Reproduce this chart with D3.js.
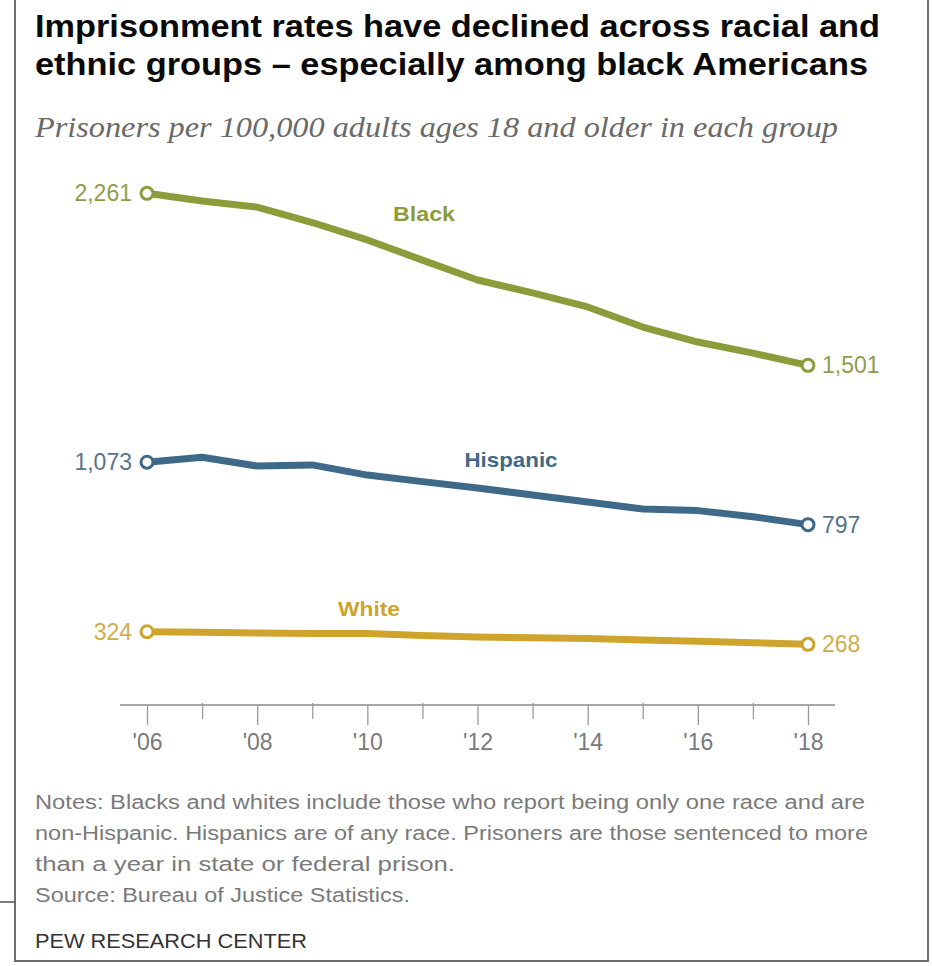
<!DOCTYPE html>
<html>
<head>
<meta charset="utf-8">
<script src="https://cdn.jsdelivr.net/npm/d3@7/dist/d3.min.js"></script>
<style>
  html, body { margin: 0; padding: 0; background: #fff; }
  svg { display: block; }
</style>
</head>
<body>
<svg id="chart" width="932" height="966"></svg>
<script>
// Imprisonment rate per 100,000 adults, 2006-2018 (Bureau of Justice Statistics)
const years = [2006, 2007, 2008, 2009, 2010, 2011, 2012, 2013, 2014, 2015, 2016, 2017, 2018];
const blackRates    = [2261, 2227, 2200, 2132, 2055, 1966, 1878, 1821, 1759, 1670, 1604, 1555, 1501];
const hispanicRates = [1073, 1095, 1056, 1061, 1016, 987, 959, 928, 897, 866, 859, 832, 797];
const whiteRates    = [324, 321, 318, 316, 316, 307, 300, 297, 294, 287, 282, 275, 268];
const seriesNames   = ["Black", "Hispanic", "White"];
const tickYears     = [2006, 2008, 2010, 2012, 2014, 2016, 2018];
const tickLabels    = ["'06", "'08", "'10", "'12", "'14", "'16", "'18"];
const titleLines    = ["Imprisonment rates have declined across racial and",
                       "ethnic groups \u2013 especially among black Americans"];
const subtitle      = "Prisoners per 100,000 adults ages 18 and older in each group";
const noteLines     = ["Notes: Blacks and whites include those who report being only one race and are",
                       "non-Hispanic. Hispanics are of any race. Prisoners are those sentenced to more",
                       "than a year in state or federal prison.",
                       "Source: Bureau of Justice Statistics."];
const credit        = "PEW RESEARCH CENTER";

const series = [
  { name: seriesNames[0], values: blackRates,    color: "#8b9d3b", text: "#8f9c4c",
    label: { x: 424, y: 213, w: 62 } },
  { name: seriesNames[1], values: hispanicRates, color: "#3f6988", text: "#56748a",
    label: { x: 511, y: 459, w: 93 } },
  { name: seriesNames[2], values: whiteRates,    color: "#cfa42d", text: "#d1ac4c",
    label: { x: 369, y: 608, w: 62 } }
];

const svg = d3.select("#chart");
const sans = "'Liberation Sans', Arial, 'Helvetica Neue', sans-serif";
const serif = "'Liberation Serif', Georgia, 'DejaVu Serif', serif";

svg.append("rect").attr("width", 932).attr("height", 966).attr("fill", "#fff");

// Frame
const frame = svg.append("g").attr("stroke", "#6f6f6f").attr("stroke-width", 2).attr("fill", "none");
frame.append("path").attr("d", "M15,0 V961 H928 V0");
svg.append("line").attr("x1", 0).attr("x2", 15).attr("y1", 902).attr("y2", 902)
  .attr("stroke", "#555").attr("stroke-width", 1.5);

// Fit a text element to a target width
function fit(sel, w, mode) {
  sel.attr("textLength", w).attr("lengthAdjust", mode || "spacingAndGlyphs");
  return sel;
}

// Title and subtitle
titleLines.forEach((t, i) => {
  const el = svg.append("text")
    .attr("x", 35).attr("y", 37 + i * 38)
    .attr("font-family", sans).attr("font-weight", "bold")
    .attr("font-size", 32).attr("fill", "#0a0a0a")
    .text(t);
  fit(el, i === 0 ? 845 : 833);
});
fit(svg.append("text")
  .attr("x", 35).attr("y", 137)
  .attr("font-family", serif).attr("font-style", "italic")
  .attr("font-size", 29).attr("fill", "#6a6a6a")
  .text(subtitle), 803);

// Scales
const x = d3.scaleLinear().domain([2006, 2018]).range([147, 808]);
const y = d3.scaleLinear().domain([0, 2500]).range([705, 139.25]);

// Axis baseline
svg.append("line")
  .attr("x1", 120).attr("x2", 835).attr("y1", y(0)).attr("y2", y(0))
  .attr("stroke", "#8a8a8a").attr("stroke-width", 1.5);

// Minor ticks on odd years
const minorAxis = svg.append("g")
  .attr("transform", `translate(0,${y(0) - 2})`)
  .call(d3.axisBottom(x).tickValues(years.filter(v => v % 2 === 1)).tickSize(16).tickFormat(""));
minorAxis.select(".domain").remove();
minorAxis.selectAll("line").attr("stroke", "#9a9a9a").attr("stroke-width", 1.3);

// Major ticks with labels
const majorAxis = svg.append("g")
  .attr("transform", `translate(0,${y(0)})`)
  .call(d3.axisBottom(x).tickValues(tickYears).tickSize(20).tickPadding(0)
    .tickFormat((d, i) => tickLabels[i]));
majorAxis.select(".domain").remove();
majorAxis.selectAll("line").attr("stroke", "#9a9a9a").attr("stroke-width", 1.3);
majorAxis.selectAll("text")
  .attr("y", 45).attr("dy", null)
  .attr("font-family", sans).attr("font-size", 23).attr("fill", "#7a7a7a");

// Lines
const line = d3.line().x((d, i) => x(years[i])).y(d => y(d)).curve(d3.curveLinear);
const fmt = d3.format(",");

series.forEach(s => {
  svg.append("path")
    .datum(s.values)
    .attr("d", line)
    .attr("fill", "none")
    .attr("stroke", s.color)
    .attr("stroke-width", 7)
    .attr("stroke-linejoin", "round")
    .attr("stroke-linecap", "round");

  const ends = [0, s.values.length - 1];
  ends.forEach(i => {
    svg.append("circle")
      .attr("cx", x(years[i])).attr("cy", y(s.values[i])).attr("r", 6)
      .attr("fill", "#fff").attr("stroke", s.color).attr("stroke-width", 3);
  });

  // value labels at the ends
  svg.append("text")
    .attr("x", x(years[0]) - 15).attr("y", y(s.values[0]))
    .attr("dy", "0.35em").attr("text-anchor", "end")
    .attr("font-family", sans).attr("font-size", 23).attr("fill", s.text)
    .text(fmt(s.values[0]));
  const last = s.values.length - 1;
  svg.append("text")
    .attr("x", x(years[last]) + 14).attr("y", y(s.values[last]))
    .attr("dy", "0.35em").attr("text-anchor", "start")
    .attr("font-family", sans).attr("font-size", 23).attr("fill", s.text)
    .text(fmt(s.values[last]));

  // series name
  fit(svg.append("text")
    .attr("x", s.label.x - s.label.w / 2).attr("y", s.label.y)
    .attr("dy", "0.36em")
    .attr("font-family", sans).attr("font-weight", "bold")
    .attr("font-size", 21).attr("fill", s.color)
    .text(s.name), s.label.w);
});

// Notes and source
const noteWidths = [830, 833, 420, 375];
noteLines.forEach((t, i) => {
  const el = svg.append("text")
    .attr("x", 35).attr("y", 809 + i * 31)
    .attr("font-family", sans).attr("font-size", 20).attr("fill", "#7a7a7a")
    .text(t);
  fit(el, noteWidths[i], "spacingAndGlyphs");
});

fit(svg.append("text")
  .attr("x", 35).attr("y", 948)
  .attr("font-family", sans).attr("font-size", 21).attr("fill", "#333")
  .text(credit), 272);
</script>
</body>
</html>
